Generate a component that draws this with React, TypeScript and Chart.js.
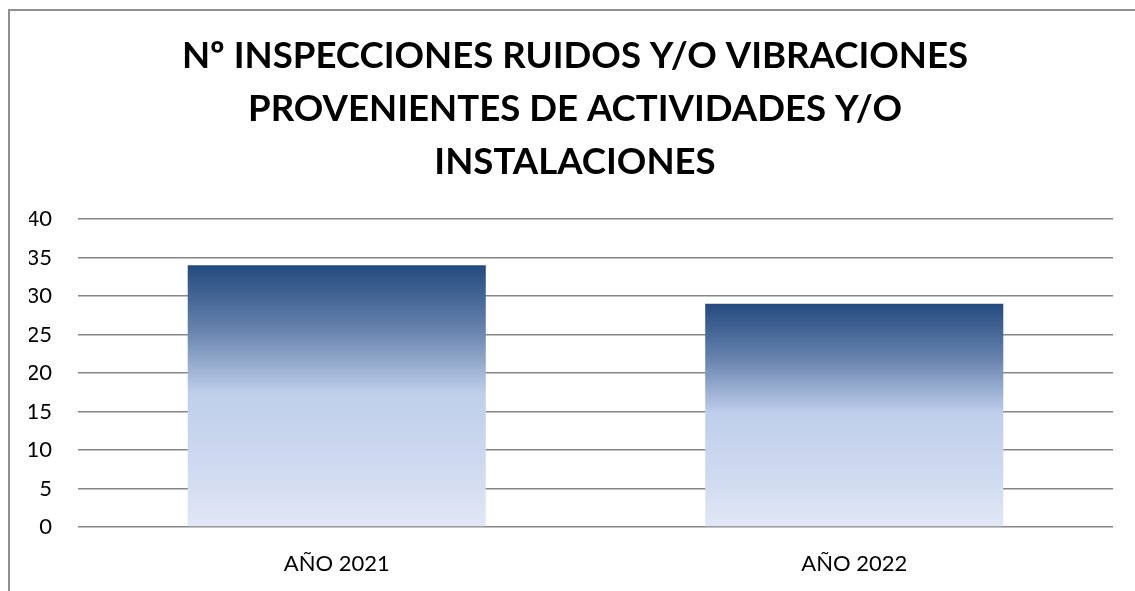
import React, { useEffect, useRef } from "react";
import { Chart, registerables } from "chart.js";

Chart.register(...registerables);

const categories: string[] = ["AÑO 2021", "AÑO 2022"];
const inspecciones: number[] = [34, 29];
const titleLines: string[] = [
  "Nº INSPECCIONES RUIDOS Y/O VIBRACIONES",
  "PROVENIENTES DE ACTIVIDADES Y/O",
  "INSTALACIONES",
];
const yMin = 0;
const yMax = 40;
const yStep = 5;

const titleShift = {
  id: "titleShift",
  afterLayout(chart: any) {
    if (chart.titleBlock) {
      chart.titleBlock.left += 8;
    }
  },
};

export default function App() {
  const canvasRef = useRef<HTMLCanvasElement | null>(null);

  useEffect(() => {
    const canvas = canvasRef.current;
    if (!canvas) return;
    const chart = new Chart(canvas, {
      type: "bar",
      data: {
        labels: categories,
        datasets: [
          {
            label: "Inspecciones",
            data: inspecciones,
            backgroundColor: (c: any) => {
              const ch = c.chart;
              const ys = ch.scales && ch.scales.y;
              if (!ys || c.type !== "data") return "#244A80";
              const top = ys.getPixelForValue(c.raw as number);
              const bottom = ys.getPixelForValue(0);
              if (!isFinite(top) || !isFinite(bottom) || top === bottom) return "#244A80";
              const g = ch.ctx.createLinearGradient(0, top, 0, bottom);
              g.addColorStop(0, "#234A7F");
              g.addColorStop(0.25, "#6884AE");
              g.addColorStop(0.49, "#BFCFEB");
              g.addColorStop(0.75, "#CDD9EF");
              g.addColorStop(1, "#E1E7F5");
              return g;
            },
            borderWidth: 0,
            categoryPercentage: 1,
            barPercentage: 0.576,
          },
        ],
      },
      plugins: [titleShift],
      options: {
        animation: false,
        responsive: false,
        maintainAspectRatio: false,
        layout: { padding: { left: 29, right: 22, top: 0, bottom: 0 } },
        plugins: {
          legend: { display: false },
          tooltip: { enabled: false },
          title: {
            display: true,
            text: titleLines,
            color: "#000000",
            font: { family: "Lato", size: 36.6, weight: "bold", lineHeight: 53 / 36.6 },
            padding: { top: 30, bottom: 30 },
          },
        },
        scales: {
          x: {
            grid: { display: false, drawTicks: false },
            border: { display: false },
            ticks: {
              color: "#000000",
              font: { family: "Lato", size: 22 },
              padding: 24,
            },
            afterFit: (axis: any) => {
              axis.height = 64;
            },
          },
          y: {
            min: yMin,
            max: yMax,
            ticks: {
              stepSize: yStep,
              color: "#000000",
              font: { family: "Lato", size: 22 },
              padding: 26,
            },
            grid: { color: "#858585", lineWidth: 1.5, drawTicks: false },
            border: { display: false },
            afterFit: (axis: any) => {
              axis.width = 49;
            },
          },
        },
      } as any,
    });
    return () => chart.destroy();
  }, []);

  return (
    <div
      style={{
        position: "absolute",
        left: 0,
        top: 0,
        width: 1135,
        height: 591,
        overflow: "hidden",
        background: "#ffffff",
      }}
    >
      <canvas
        ref={canvasRef}
        width={1135}
        height={591}
        style={{ position: "absolute", left: 0, top: 0, width: 1135, height: 591 }}
      />
      <div
        style={{
          position: "absolute",
          left: 8,
          top: 9,
          width: 1300,
          height: 800,
          borderLeft: "2px solid #8f8f8f",
          borderTop: "2px solid #8f8f8f",
          pointerEvents: "none",
        }}
      />
    </div>
  );
}
